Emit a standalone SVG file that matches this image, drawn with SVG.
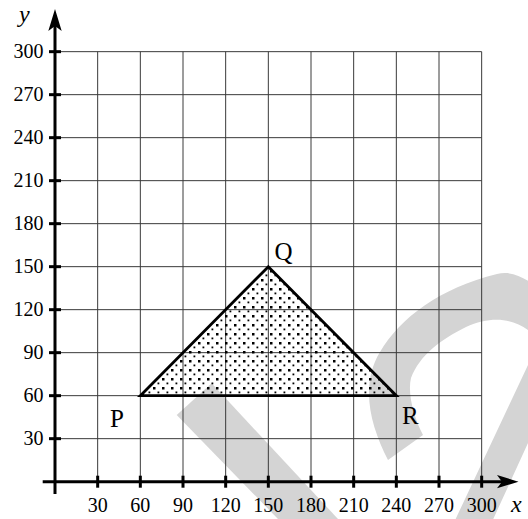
<svg xmlns="http://www.w3.org/2000/svg" width="528" height="519" viewBox="0 0 528 519">
<style>
.wm{fill:#d4d4d4;stroke:none}
.grid line{stroke:#3a3a3a;stroke-width:1}
.axis{stroke:#000;stroke-width:3;fill:none}
.tick{stroke:#000;stroke-width:3}
.num{font-family:"Liberation Serif","Times New Roman",serif;font-size:20px;fill:#000}
.lbl{font-family:"Liberation Serif","Times New Roman",serif;font-size:25px;fill:#000}
.var{font-family:"Liberation Serif","Times New Roman",serif;font-size:24px;font-style:italic;fill:#000}
.tri{fill:url(#dots);stroke:#000;stroke-width:2.8;stroke-linejoin:miter}
</style>
<defs>
<pattern id="dots" patternUnits="userSpaceOnUse" width="9" height="9" x="0" y="0">
<rect x="0" y="0" width="2.5" height="2.5" fill="#000"/>
<rect x="4.5" y="4.5" width="1.8" height="1.8" fill="#000"/>
</pattern>
</defs>
<g id="watermark">
<polygon class="wm" points="176.7,415 211.7,383.3 338,519 278,519"/>
<path class="wm" d="M388,460 C370,425 360,385 380,352 C400,318 440,288 497,274 C510,271 520,276 530,282 L560,290 L560,420 L528,443 L480,548 L442,548 L528,365 L545,345 L528,330 C512,318 490,316 466,327 C440,340 420,355 411,378 C407,395 415,420 423,435 Z"/>
</g>
<g id="grid" class="grid">
<line x1="97.67" y1="51.67" x2="97.67" y2="481.67"/>
<line x1="140.33" y1="51.67" x2="140.33" y2="481.67"/>
<line x1="183" y1="51.67" x2="183" y2="481.67"/>
<line x1="225.67" y1="51.67" x2="225.67" y2="481.67"/>
<line x1="268.33" y1="51.67" x2="268.33" y2="481.67"/>
<line x1="311" y1="51.67" x2="311" y2="481.67"/>
<line x1="353.67" y1="51.67" x2="353.67" y2="481.67"/>
<line x1="396.33" y1="51.67" x2="396.33" y2="481.67"/>
<line x1="439" y1="51.67" x2="439" y2="481.67"/>
<line x1="481.67" y1="51.67" x2="481.67" y2="481.67"/>
<line x1="55" y1="438.67" x2="481.67" y2="438.67"/>
<line x1="55" y1="395.67" x2="481.67" y2="395.67"/>
<line x1="55" y1="352.67" x2="481.67" y2="352.67"/>
<line x1="55" y1="309.67" x2="481.67" y2="309.67"/>
<line x1="55" y1="266.67" x2="481.67" y2="266.67"/>
<line x1="55" y1="223.67" x2="481.67" y2="223.67"/>
<line x1="55" y1="180.67" x2="481.67" y2="180.67"/>
<line x1="55" y1="137.67" x2="481.67" y2="137.67"/>
<line x1="55" y1="94.67" x2="481.67" y2="94.67"/>
<line x1="55" y1="51.67" x2="481.67" y2="51.67"/>
</g>
<g id="triangle-PQR">
<polygon class="tri" points="140.33,395.67 268.33,266.67 396.33,395.67"/>
</g>
<g id="axes">
<line class="axis" x1="42.7" y1="481.67" x2="505" y2="481.67"/>
<polygon points="518.5,481.67 497,475 502,481.67 497,488.3" fill="#000"/>
<line class="axis" x1="55" y1="494" x2="55" y2="24"/>
<polygon points="55,9 48.3,31 55,26 61.7,31" fill="#000"/>
<g class="tick">
<line x1="97.67" y1="475.7" x2="97.67" y2="487.7"/>
<line x1="140.33" y1="475.7" x2="140.33" y2="487.7"/>
<line x1="183" y1="475.7" x2="183" y2="487.7"/>
<line x1="225.67" y1="475.7" x2="225.67" y2="487.7"/>
<line x1="268.33" y1="475.7" x2="268.33" y2="487.7"/>
<line x1="311" y1="475.7" x2="311" y2="487.7"/>
<line x1="353.67" y1="475.7" x2="353.67" y2="487.7"/>
<line x1="396.33" y1="475.7" x2="396.33" y2="487.7"/>
<line x1="439" y1="475.7" x2="439" y2="487.7"/>
<line x1="481.67" y1="475.7" x2="481.67" y2="487.7"/>
<line x1="49" y1="438.67" x2="61" y2="438.67"/>
<line x1="49" y1="395.67" x2="61" y2="395.67"/>
<line x1="49" y1="352.67" x2="61" y2="352.67"/>
<line x1="49" y1="309.67" x2="61" y2="309.67"/>
<line x1="49" y1="266.67" x2="61" y2="266.67"/>
<line x1="49" y1="223.67" x2="61" y2="223.67"/>
<line x1="49" y1="180.67" x2="61" y2="180.67"/>
<line x1="49" y1="137.67" x2="61" y2="137.67"/>
<line x1="49" y1="94.67" x2="61" y2="94.67"/>
<line x1="49" y1="51.67" x2="61" y2="51.67"/>
</g>
<g class="num" text-anchor="middle">
<text x="97.67" y="511.5">30</text>
<text x="140.33" y="511.5">60</text>
<text x="183" y="511.5">90</text>
<text x="225.67" y="511.5">120</text>
<text x="268.33" y="511.5">150</text>
<text x="311" y="511.5">180</text>
<text x="353.67" y="511.5">210</text>
<text x="396.33" y="511.5">240</text>
<text x="439" y="511.5">270</text>
<text x="481.67" y="511.5">300</text>
</g>
<g class="num" text-anchor="end">
<text x="43.5" y="445.4">30</text>
<text x="43.5" y="402.4">60</text>
<text x="43.5" y="359.4">90</text>
<text x="43.5" y="316.4">120</text>
<text x="43.5" y="273.4">150</text>
<text x="43.5" y="230.4">180</text>
<text x="43.5" y="187.4">210</text>
<text x="43.5" y="144.4">240</text>
<text x="43.5" y="101.4">270</text>
<text x="43.5" y="58.4">300</text>
</g>
<text class="var" x="19" y="22">y</text>
<text class="var" x="511" y="512">x</text>
</g>
<g id="label-P"><text class="lbl" x="110" y="426.5">P</text></g>
<g id="label-Q"><text class="lbl" x="274.5" y="260">Q</text></g>
<g id="label-R"><text class="lbl" x="402" y="424">R</text></g>
</svg>
